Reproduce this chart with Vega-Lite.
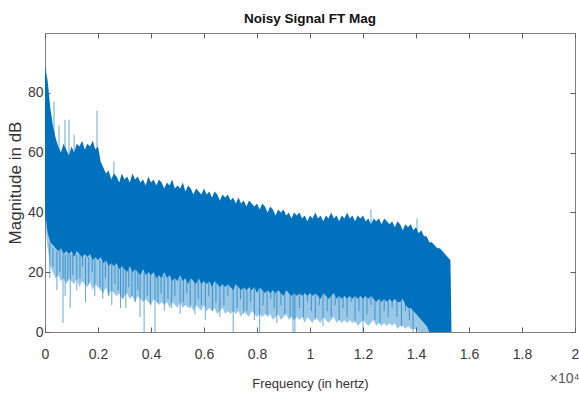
{
  "$schema": "https://vega.github.io/schema/vega-lite/v6.json",
  "width": 530,
  "height": 299,
  "autosize": {"type": "none"},
  "padding": {"left": 45, "top": 33, "right": 4, "bottom": 62},
  "background": "white",
  "config": {
    "view": {"stroke": "#808080", "strokeWidth": 1},
    "font": "Liberation Sans, sans-serif",
    "axis": {"grid": false, "domain": false, "tickColor": "#606060", "labelColor": "#3a3a3a", "titleColor": "#333333", "titleFontWeight": "normal", "labelFont": "Liberation Sans, sans-serif", "titleFont": "Liberation Sans, sans-serif"}
  },
  "title": {"text": "Noisy Signal FT Mag", "fontSize": 13.5, "fontWeight": "bold", "color": "#111111", "anchor": "middle", "offset": 7, "font": "Liberation Sans, sans-serif"},
  "datasets": {
    "env": [
      {"f":0,"hi":89,"lo":40,"lo2":36},{"f":100,"hi":84,"lo":33,"lo2":28},{"f":200,"hi":75,"lo":30,"lo2":22},{"f":300,"hi":69,"lo":29,"lo2":20},{"f":400,"hi":65,"lo":28,"lo2":18},{"f":500,"hi":62,"lo":27,"lo2":19},{"f":600,"hi":60,"lo":28,"lo2":17},{"f":700,"hi":63,"lo":26,"lo2":18},{"f":800,"hi":61,"lo":27,"lo2":16},{"f":900,"hi":59,"lo":26,"lo2":18},
      {"f":1000,"hi":62,"lo":27,"lo2":17},{"f":1100,"hi":60,"lo":25,"lo2":16},{"f":1200,"hi":63,"lo":27,"lo2":18},{"f":1300,"hi":62,"lo":26,"lo2":15},{"f":1400,"hi":64,"lo":25,"lo2":17},{"f":1500,"hi":61,"lo":26,"lo2":16},{"f":1600,"hi":63,"lo":25,"lo2":15},{"f":1700,"hi":62,"lo":26,"lo2":17},{"f":1800,"hi":64,"lo":24,"lo2":14},{"f":1900,"hi":61,"lo":25,"lo2":16},
      {"f":2000,"hi":62,"lo":24,"lo2":15},{"f":2100,"hi":57,"lo":25,"lo2":14},{"f":2200,"hi":55,"lo":23,"lo2":13},{"f":2300,"hi":53,"lo":24,"lo2":15},{"f":2400,"hi":54,"lo":22,"lo2":12},{"f":2500,"hi":51,"lo":23,"lo2":14},{"f":2600,"hi":53,"lo":22,"lo2":13},{"f":2700,"hi":52,"lo":23,"lo2":12},{"f":2800,"hi":50,"lo":21,"lo2":13},{"f":2900,"hi":53,"lo":22,"lo2":11},
      {"f":3000,"hi":51,"lo":21,"lo2":12},{"f":3100,"hi":52,"lo":20,"lo2":13},{"f":3200,"hi":50,"lo":22,"lo2":11},{"f":3300,"hi":53,"lo":20,"lo2":12},{"f":3400,"hi":51,"lo":21,"lo2":10},{"f":3500,"hi":52,"lo":20,"lo2":12},{"f":3600,"hi":50,"lo":19,"lo2":11},{"f":3700,"hi":51,"lo":21,"lo2":10},{"f":3800,"hi":49,"lo":19,"lo2":11},{"f":3900,"hi":52,"lo":20,"lo2":10},
      {"f":4000,"hi":50,"lo":19,"lo2":9},{"f":4100,"hi":51,"lo":20,"lo2":11},{"f":4200,"hi":49,"lo":18,"lo2":10},{"f":4300,"hi":51,"lo":19,"lo2":9},{"f":4400,"hi":50,"lo":18,"lo2":10},{"f":4500,"hi":48,"lo":20,"lo2":9},{"f":4600,"hi":50,"lo":18,"lo2":10},{"f":4700,"hi":49,"lo":19,"lo2":8},{"f":4800,"hi":51,"lo":17,"lo2":10},{"f":4900,"hi":48,"lo":18,"lo2":9},
      {"f":5000,"hi":49,"lo":17,"lo2":8},{"f":5100,"hi":48,"lo":19,"lo2":10},{"f":5200,"hi":50,"lo":17,"lo2":8},{"f":5300,"hi":47,"lo":18,"lo2":9},{"f":5400,"hi":49,"lo":16,"lo2":8},{"f":5500,"hi":48,"lo":18,"lo2":9},{"f":5600,"hi":46,"lo":17,"lo2":7},{"f":5700,"hi":48,"lo":16,"lo2":9},{"f":5800,"hi":47,"lo":18,"lo2":8},{"f":5900,"hi":46,"lo":16,"lo2":7},
      {"f":6000,"hi":48,"lo":17,"lo2":9},{"f":6100,"hi":46,"lo":16,"lo2":7},{"f":6200,"hi":47,"lo":17,"lo2":8},{"f":6300,"hi":45,"lo":15,"lo2":7},{"f":6400,"hi":47,"lo":17,"lo2":8},{"f":6500,"hi":46,"lo":16,"lo2":6},{"f":6600,"hi":44,"lo":15,"lo2":7},{"f":6700,"hi":46,"lo":16,"lo2":8},{"f":6800,"hi":45,"lo":15,"lo2":6},{"f":6900,"hi":46,"lo":16,"lo2":7},
      {"f":7000,"hi":44,"lo":15,"lo2":6},{"f":7100,"hi":45,"lo":14,"lo2":7},{"f":7200,"hi":43,"lo":16,"lo2":6},{"f":7300,"hi":45,"lo":15,"lo2":7},{"f":7400,"hi":43,"lo":14,"lo2":5},{"f":7500,"hi":44,"lo":15,"lo2":7},{"f":7600,"hi":42,"lo":14,"lo2":6},{"f":7700,"hi":44,"lo":15,"lo2":5},{"f":7800,"hi":43,"lo":14,"lo2":7},{"f":7900,"hi":42,"lo":15,"lo2":6},
      {"f":8000,"hi":43,"lo":13,"lo2":5},{"f":8100,"hi":41,"lo":15,"lo2":6},{"f":8200,"hi":43,"lo":14,"lo2":5},{"f":8300,"hi":42,"lo":13,"lo2":6},{"f":8400,"hi":40,"lo":14,"lo2":5},{"f":8500,"hi":42,"lo":13,"lo2":6},{"f":8600,"hi":41,"lo":14,"lo2":4},{"f":8700,"hi":39,"lo":13,"lo2":5},{"f":8800,"hi":41,"lo":14,"lo2":6},{"f":8900,"hi":40,"lo":13,"lo2":4},
      {"f":9000,"hi":41,"lo":12,"lo2":5},{"f":9100,"hi":39,"lo":14,"lo2":6},{"f":9200,"hi":40,"lo":13,"lo2":4},{"f":9300,"hi":38,"lo":12,"lo2":5},{"f":9400,"hi":40,"lo":13,"lo2":4},{"f":9500,"hi":39,"lo":12,"lo2":5},{"f":9600,"hi":40,"lo":13,"lo2":4},{"f":9700,"hi":38,"lo":12,"lo2":5},{"f":9800,"hi":39,"lo":13,"lo2":3},{"f":9900,"hi":37,"lo":12,"lo2":5},
      {"f":10000,"hi":39,"lo":13,"lo2":4},{"f":10100,"hi":38,"lo":12,"lo2":3},{"f":10200,"hi":40,"lo":13,"lo2":5},{"f":10300,"hi":38,"lo":12,"lo2":4},{"f":10400,"hi":39,"lo":11,"lo2":3},{"f":10500,"hi":37,"lo":13,"lo2":5},{"f":10600,"hi":39,"lo":12,"lo2":4},{"f":10700,"hi":38,"lo":11,"lo2":3},{"f":10800,"hi":40,"lo":12,"lo2":4},{"f":10900,"hi":38,"lo":13,"lo2":5},
      {"f":11000,"hi":39,"lo":11,"lo2":3},{"f":11100,"hi":37,"lo":12,"lo2":4},{"f":11200,"hi":39,"lo":11,"lo2":3},{"f":11300,"hi":38,"lo":12,"lo2":4},{"f":11400,"hi":40,"lo":11,"lo2":3},{"f":11500,"hi":38,"lo":12,"lo2":4},{"f":11600,"hi":39,"lo":11,"lo2":3},{"f":11700,"hi":37,"lo":12,"lo2":4},{"f":11800,"hi":39,"lo":11,"lo2":2},{"f":11900,"hi":38,"lo":12,"lo2":3},
      {"f":12000,"hi":39,"lo":11,"lo2":4},{"f":12100,"hi":37,"lo":12,"lo2":3},{"f":12200,"hi":38,"lo":11,"lo2":2},{"f":12300,"hi":36,"lo":12,"lo2":3},{"f":12400,"hi":38,"lo":11,"lo2":4},{"f":12500,"hi":37,"lo":10,"lo2":2},{"f":12600,"hi":38,"lo":11,"lo2":3},{"f":12700,"hi":36,"lo":10,"lo2":2},{"f":12800,"hi":38,"lo":11,"lo2":3},{"f":12900,"hi":37,"lo":10,"lo2":2},
      {"f":13000,"hi":36,"lo":11,"lo2":3},{"f":13100,"hi":37,"lo":10,"lo2":2},{"f":13200,"hi":35,"lo":11,"lo2":3},{"f":13300,"hi":37,"lo":10,"lo2":1},{"f":13400,"hi":36,"lo":10,"lo2":2},{"f":13500,"hi":34,"lo":11,"lo2":2},{"f":13600,"hi":36,"lo":9,"lo2":1},{"f":13700,"hi":35,"lo":8,"lo2":2},{"f":13800,"hi":36,"lo":8,"lo2":1},{"f":13900,"hi":34,"lo":7,"lo2":1},
      {"f":14000,"hi":35,"lo":6,"lo2":1},{"f":14100,"hi":33,"lo":5,"lo2":0},{"f":14200,"hi":34,"lo":4,"lo2":0},{"f":14300,"hi":32,"lo":3,"lo2":0},{"f":14400,"hi":32,"lo":2,"lo2":0},{"f":14500,"hi":30,"lo":0,"lo2":0},{"f":14600,"hi":30,"lo":0,"lo2":0},{"f":14700,"hi":29,"lo":0,"lo2":0},{"f":14800,"hi":28,"lo":0,"lo2":0},{"f":14900,"hi":28,"lo":0,"lo2":0},
      {"f":15000,"hi":27,"lo":0,"lo2":0},{"f":15100,"hi":26,"lo":0,"lo2":0},{"f":15200,"hi":25,"lo":0,"lo2":0},{"f":15300,"hi":24,"lo":0,"lo2":0},{"f":15340,"hi":0,"lo":0,"lo2":0}
    ],
    "spikes": [
      {"f":180,"a":18,"b":30},{"f":300,"a":22,"b":28},{"f":450,"a":14,"b":27},{"f":560,"a":20,"b":28},{"f":680,"a":3,"b":26},{"f":760,"a":12,"b":26},{"f":860,"a":17,"b":26},{"f":950,"a":8,"b":26},{"f":1050,"a":19,"b":26},{"f":1200,"a":14,"b":26},{"f":1320,"a":18,"b":26},{"f":1420,"a":22,"b":26},{"f":1530,"a":10,"b":25},{"f":1650,"a":16,"b":25},{"f":1780,"a":20,"b":25},{"f":1880,"a":12,"b":25},{"f":2075,"a":15,"b":24},{"f":2180,"a":11,"b":24},{"f":2280,"a":18,"b":24},{"f":2400,"a":12,"b":24},{"f":2520,"a":9,"b":23},{"f":2640,"a":16,"b":23},{"f":2760,"a":14,"b":23},{"f":2850,"a":8,"b":22},{"f":2950,"a":11,"b":22},{"f":3050,"a":8,"b":22},{"f":3160,"a":15,"b":22},{"f":3280,"a":12,"b":22},{"f":3400,"a":10,"b":21},{"f":3500,"a":14,"b":21},{"f":3585,"a":5,"b":21},{"f":3740,"a":0,"b":20},{"f":3860,"a":12,"b":20},{"f":3980,"a":9,"b":20},{"f":4150,"a":0,"b":20},{"f":4260,"a":10,"b":20},{"f":4380,"a":13,"b":19},{"f":4500,"a":7,"b":19},{"f":4640,"a":11,"b":19},{"f":4780,"a":8,"b":19},{"f":4900,"a":12,"b":19},{"f":5100,"a":6,"b":18},{"f":5220,"a":10,"b":18},{"f":5350,"a":13,"b":18},{"f":5480,"a":8,"b":18},{"f":5660,"a":6,"b":18},{"f":5780,"a":11,"b":18},{"f":5900,"a":9,"b":17},{"f":6050,"a":4,"b":17},{"f":6180,"a":12,"b":17},{"f":6320,"a":7,"b":17},{"f":6450,"a":10,"b":17},{"f":6600,"a":5,"b":17},{"f":6750,"a":9,"b":16},{"f":6900,"a":12,"b":16},{"f":7100,"a":0,"b":16},{"f":7250,"a":8,"b":16},{"f":7380,"a":11,"b":16},{"f":7500,"a":6,"b":16},{"f":7620,"a":7,"b":15},{"f":7760,"a":10,"b":15},{"f":7900,"a":4,"b":15},{"f":8100,"a":0,"b":15},{"f":8230,"a":9,"b":15},{"f":8380,"a":6,"b":15},{"f":8520,"a":11,"b":15},{"f":8650,"a":8,"b":15},{"f":8750,"a":3,"b":15},{"f":8900,"a":9,"b":15},{"f":9050,"a":6,"b":15},{"f":9250,"a":5,"b":15},{"f":9360,"a":0,"b":15},{"f":9430,"a":0,"b":15},{"f":9600,"a":8,"b":14},{"f":9750,"a":5,"b":14},{"f":9900,"a":10,"b":14},{"f":10050,"a":7,"b":14},{"f":10200,"a":4,"b":14},{"f":10350,"a":9,"b":14},{"f":10490,"a":2,"b":14},{"f":10650,"a":7,"b":14},{"f":10800,"a":5,"b":14},{"f":10950,"a":9,"b":14},{"f":11100,"a":4,"b":14},{"f":11250,"a":8,"b":14},{"f":11400,"a":5,"b":14},{"f":11550,"a":10,"b":14},{"f":11700,"a":3,"b":14},{"f":11850,"a":7,"b":14},{"f":12000,"a":0,"b":14},{"f":12150,"a":6,"b":14},{"f":12300,"a":9,"b":13},{"f":12450,"a":4,"b":13},{"f":12640,"a":3,"b":13},{"f":12800,"a":7,"b":13},{"f":12950,"a":5,"b":13},{"f":13100,"a":8,"b":13},{"f":13280,"a":5,"b":13},{"f":13450,"a":2,"b":13},{"f":13600,"a":7,"b":12},{"f":13750,"a":4,"b":12},{"f":13890,"a":0,"b":12},
      {"f":340,"a":60,"b":77},{"f":530,"a":58,"b":69},{"f":755,"a":58,"b":71},{"f":906,"a":58,"b":71},{"f":1100,"a":60,"b":66},{"f":1962,"a":58,"b":74},{"f":2600,"a":50,"b":57},{"f":12300,"a":36,"b":41},{"f":14040,"a":34,"b":38}
    ]
  },
  "layer": [
    {
      "data": {"name": "env"},
      "mark": {"type": "area", "color": "#0072BD", "opacity": 0.4},
      "encoding": {
        "x": {"field": "f", "type": "quantitative", "scale": {"domain": [0, 20000], "nice": false},
          "axis": {"orient": "bottom", "values": [0,2000,4000,6000,8000,10000,12000,14000,16000,18000,20000], "labelExpr": "'' + datum.value/10000", "tickSize": -5, "labelPadding": 20, "labelFontSize": 14, "labelFlush": false, "labelOverlap": false, "title": "Frequency (in hertz)", "titleFontSize": 13, "titlePadding": 16}},
        "y": {"field": "lo", "type": "quantitative", "scale": {"domain": [0, 100], "nice": false},
          "axis": {"orient": "left", "values": [0,20,40,60,80], "tickSize": -5, "labelPadding": 7, "labelFontSize": 14, "labelFlush": false, "title": "Magnitude in dB", "titleFontSize": 17, "titlePadding": 3}},
        "y2": {"field": "lo2"}
      }
    },
    {
      "data": {"name": "env"},
      "mark": {"type": "area", "color": "#0072BD", "opacity": 1},
      "encoding": {
        "x": {"field": "f", "type": "quantitative", "axis": null},
        "y": {"field": "hi", "type": "quantitative", "axis": null},
        "y2": {"field": "lo"}
      }
    },
    {
      "data": {"name": "spikes"},
      "mark": {"type": "rule", "color": "#0072BD", "opacity": 0.6, "strokeWidth": 1},
      "encoding": {
        "x": {"field": "f", "type": "quantitative",
          "axis": {"orient": "top", "values": [0,2000,4000,6000,8000,10000,12000,14000,16000,18000,20000], "labels": false, "tickSize": -5, "title": "×10⁴", "titleX": 534, "titleY": 345, "titleAlign": "right", "titleBaseline": "middle", "titleAngle": 0, "titleFontSize": 14, "titleColor": "#555555"}},
        "y": {"field": "a", "type": "quantitative",
          "axis": {"orient": "right", "values": [0,20,40,60,80], "labels": false, "tickSize": -5, "title": null}},
        "y2": {"field": "b"}
      }
    }
  ],
  "resolve": {"axis": {"x": "independent", "y": "independent"}}
}
